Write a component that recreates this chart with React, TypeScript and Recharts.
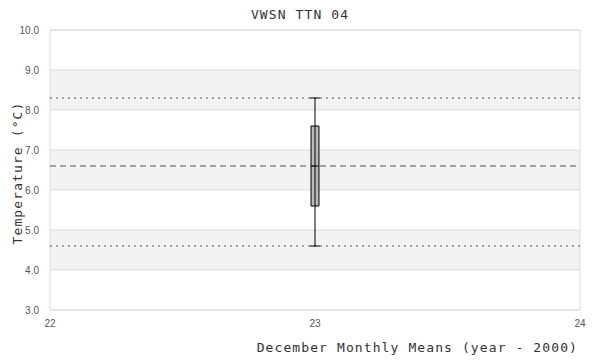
import { ComposedChart, XAxis, YAxis, CartesianGrid, ReferenceArea, ReferenceLine, Label, Scatter } from 'recharts';

document.body.style.margin = '0';

// December monthly means (year - 2000)
const years = [23];
const mins = [4.6];
const q1s = [5.6];
const medians = [6.6];
const q3s = [7.6];
const maxs = [8.3];

const xTicks = [22, 23, 24];
const yTicks = [3, 4, 5, 6, 7, 8, 9, 10];

const BOX_HALF = 0.015; // box half-width in x units
const CAP_HALF = 0.019;

const data = years.map((year, i) => ({
  year,
  min: mins[i],
  q1: q1s[i],
  median: medians[i],
  q3: q3s[i],
  max: maxs[i],
}));

const allMin = Math.min(...mins);
const allMax = Math.max(...maxs);
const allMedian = medians[0];

const monoFont = '"DejaVu Sans Mono", monospace';
const labelStyle = { fontFamily: monoFont, fontSize: 13, letterSpacing: 1.1, fill: '#333' };
const tickStyle = { fontFamily: '"Liberation Sans", Arial, sans-serif', fontSize: 10, fill: '#555' };

const App = () => {
  return (
    <div style={{ width: 600, height: 360, background: '#fff' }}>
      <ComposedChart width={600} height={360} data={data} margin={{ top: 30, right: 20, bottom: 0, left: 0 }}>
        <text x={300} y={19} textAnchor="middle" style={labelStyle}>
          VWSN TTN 04
        </text>
        <CartesianGrid vertical={false} stroke="#dddddd" horizontalFill={['#ffffff', '#f2f2f2']} />
        <XAxis
          type="number"
          dataKey="year"
          domain={[22, 24]}
          ticks={xTicks}
          height={50}
          axisLine={false}
          tickLine={false}
          tickSize={0}
          tickMargin={10}
          tick={tickStyle}
        >
          <Label
            content={({ viewBox }: any) => (
              <text x={viewBox.x + viewBox.width - 2} y={viewBox.y + 42} textAnchor="end" style={labelStyle}>
                December Monthly Means (year - 2000)
              </text>
            )}
          />
        </XAxis>
        <YAxis
          type="number"
          domain={[3, 10]}
          ticks={yTicks}
          width={50}
          axisLine={false}
          tickLine={false}
          tickSize={0}
          tickMargin={11}
          tick={tickStyle}
          tickFormatter={(v: number) => v.toFixed(1)}
        >
          <Label
            content={({ viewBox }: any) => {
              const cy = viewBox.y + viewBox.height / 2 + 3;
              return (
                <text x={22} y={cy} textAnchor="middle" transform={`rotate(-90, 22, ${cy})`} style={labelStyle}>
                  Temperature (°C)
                </text>
              );
            }}
          />
        </YAxis>
        <ReferenceArea x1={22} x2={24} y1={3} y2={10} fill="none" stroke="#dddddd" ifOverflow="visible" />
        <ReferenceLine y={allMax} stroke="#555" strokeDasharray="2 4" />
        <ReferenceLine y={allMedian} stroke="#555" strokeDasharray="6 4" />
        <ReferenceLine y={allMin} stroke="#555" strokeDasharray="2 4" />
        {data.map((d) => (
          <ReferenceLine
            key={`w-${d.year}`}
            segment={[{ x: d.year, y: d.min }, { x: d.year, y: d.max }]}
            stroke="#000"
          />
        ))}
        {data.map((d) => (
          <ReferenceLine
            key={`cmax-${d.year}`}
            segment={[{ x: d.year - CAP_HALF, y: d.max }, { x: d.year + CAP_HALF, y: d.max }]}
            stroke="#000"
          />
        ))}
        {data.map((d) => (
          <ReferenceLine
            key={`cmin-${d.year}`}
            segment={[{ x: d.year - CAP_HALF, y: d.min }, { x: d.year + CAP_HALF, y: d.min }]}
            stroke="#000"
          />
        ))}
        {data.map((d) => (
          <ReferenceArea
            key={`box-${d.year}`}
            x1={d.year - BOX_HALF}
            x2={d.year + BOX_HALF}
            y1={d.q1}
            y2={d.q3}
            fill="#bbbbbb"
            fillOpacity={1}
            stroke="#000"
          />
        ))}
        {data.map((d) => (
          <ReferenceLine
            key={`med-${d.year}`}
            segment={[{ x: d.year - BOX_HALF, y: d.median }, { x: d.year + BOX_HALF, y: d.median }]}
            stroke="#000"
          />
        ))}
        <Scatter dataKey="median" shape={() => null} isAnimationActive={false} />
      </ComposedChart>
    </div>
  );
};

export default App;
